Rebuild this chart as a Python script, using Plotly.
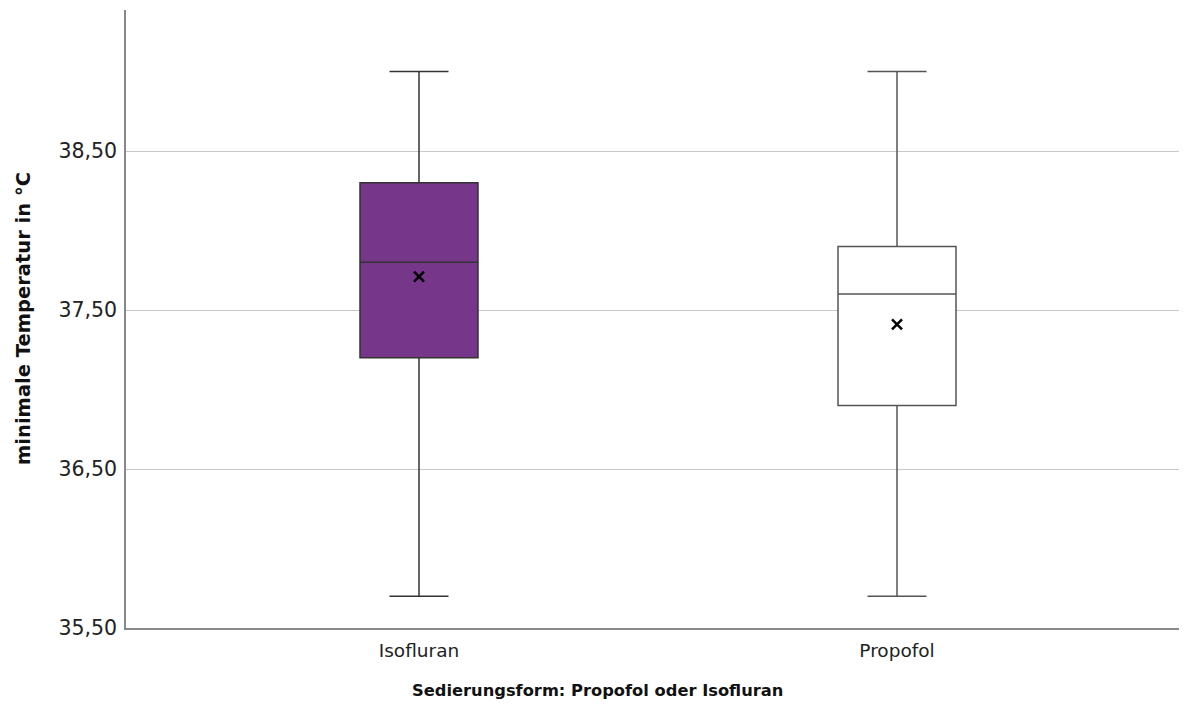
import plotly.graph_objects as go

groups = ["Isofluran", "Propofol"]
positions = [0, 1]
q1 = [37.20, 36.90]
median = [37.80, 37.60]
q3 = [38.30, 37.90]
lower_whisker = [35.70, 35.70]
upper_whisker = [39.00, 39.00]
mean = [37.71, 37.41]
fills = ["#76368a", "#ffffff"]
edges = ["#333333", "#555555"]

ytick_vals = [35.5, 36.5, 37.5, 38.5]
ytick_text = ["35,50", "36,50", "37,50", "38,50"]

OFF = 8  # page body margin
W, H = 1187 - 2 * OFF, 709 - 2 * OFF
L, T = 126 - OFF, 10 - OFF
ph = 618
B = H - T - ph
R = 0
pw = W - L - R
c0, c1 = 419 - OFF, 897 - OFF
unit = c1 - c0
x_range = [(L - c0) / unit, (W - R - c0) / unit]
y_range = [35.5, 35.5 + ph / 159.0]

fig = go.Figure()
for i, g in enumerate(groups):
    fig.add_trace(go.Box(
        x=[positions[i]], q1=[q1[i]], median=[median[i]], q3=[q3[i]],
        lowerfence=[lower_whisker[i]], upperfence=[upper_whisker[i]],
        name=g, fillcolor=fills[i], width=118 / unit, whiskerwidth=0.5,
        line=dict(color=edges[i], width=1.5), boxpoints=False,
        hoverinfo="skip",
    ))
fig.add_trace(go.Scatter(
    x=positions, y=mean, mode="markers",
    marker=dict(symbol="x-thin", size=10, line=dict(color="#000000", width=2.5)),
    hoverinfo="skip",
))

font = "DejaVu Sans"
fig.update_layout(
    width=W, height=H, showlegend=False,
    margin=dict(l=L, r=R, t=T, b=B, autoexpand=False),
    paper_bgcolor="white", plot_bgcolor="white",
    font=dict(family=font, color="#222222"),
    xaxis=dict(
        range=x_range, tickvals=positions, ticktext=groups,
        showgrid=False, zeroline=False, showline=True, linecolor="#888888",
        linewidth=1.5, ticks="outside", ticklen=5, tickcolor="rgba(0,0,0,0)",
        tickfont=dict(size=18.5, family=font, color="#222222"),
    ),
    yaxis=dict(
        range=y_range, tickvals=ytick_vals, ticktext=ytick_text,
        showgrid=True, gridcolor="#c8c8c8", gridwidth=1, zeroline=False,
        showline=True, linecolor="#888888", linewidth=1.5,
        ticks="outside", ticklen=3, tickcolor="rgba(0,0,0,0)",
        tickfont=dict(size=20.5, family=font, color="#222222"),
    ),
    annotations=[
        dict(text="<b>minimale Temperatur in °C</b>", xref="paper", yref="paper",
             x=(23 - OFF - L) / pw, y=0.5, textangle=-90, showarrow=False,
             xanchor="center", yanchor="middle",
             font=dict(size=19.5, family=font, color="#111111")),
        dict(text="<b>Sedierungsform: Propofol oder Isofluran</b>", xref="paper", yref="paper",
             x=(597 - OFF - L) / pw, y=-(690 - 628) / ph, showarrow=False,
             xanchor="center", yanchor="middle",
             font=dict(size=16.3, family=font, color="#111111")),
    ],
)
fig.write_html("out.html")
